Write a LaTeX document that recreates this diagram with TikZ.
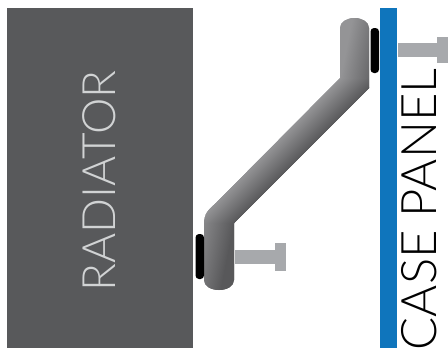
\documentclass[tikz,border=0pt]{standalone}
\usepackage{fontspec}
\setmainfont{Lato Light}
\usetikzlibrary{positioning,calc}
\tikzset{
    padbar/.style={fill=black, rounded corners=3.5pt},
    sidelabel/.style={rotate=90, inner sep=0pt, anchor=center}
}
\definecolor{radgray}{HTML}{58595B}
\definecolor{panelblue}{HTML}{0F75BC}
\definecolor{boltcol}{HTML}{A7A9AC}
\definecolor{labelcol}{HTML}{D1D3D4}
\definecolor{armlight}{HTML}{949496}
\definecolor{armdark}{HTML}{58585A}

\begin{document}
\begin{tikzpicture}[x=1pt,y=-1pt]
    \useasboundingbox (0,0) rectangle (448,349);

    % Radiator block
    \fill[radgray] (6.5,8) rectangle (193,347.5);
    \node[sidelabel, text=labelcol, font=\fontsize{46}{46}\selectfont] (radiator) at (99,181) {RADIATOR};

    % Case panel
    \fill[panelblue] (380,8) rectangle (396.5,348);
    \node[sidelabel, text=black, font=\fontsize{49}{49}\selectfont] (panel) at (419,209.5) {CASE PANEL};

    % Bracket, shaded row by row so the three parts join up
    \begin{scope}
        \clip (204,280) -- (204,224) .. controls (204,214) and (208,210) .. (216,203)
            -- (340,78) -- (340,28) .. controls (340,22) and (347,18) .. (354.5,18)
            .. controls (362,18) and (369,22) .. (369,28) -- (369,88) -- (234,223)
            -- (234,280) .. controls (234,286) and (227,290) .. (219,290)
            .. controls (211,290) and (204,286) .. (204,280) -- cycle;
        \foreach \y in {17,18,...,290} {
            \pgfmathsetmacro{\xstart}{\y<78 ? 340-0.2*(\y-78) : (\y<223 ? 418-\y : 195-0.2*(\y-223))}
            \fill[armlight] (\xstart-60,\y) rectangle (\xstart+1,\y+1.6);
            \fill[armdark] (\xstart+38,\y) rectangle (\xstart+100,\y+1.6);
            \shade[left color=armlight, right color=armdark] (\xstart,\y) rectangle (\xstart+39,\y+1.6);
        }
    \end{scope}

    % Rubber pads
    \fill[padbar] (195.5,234) rectangle (204,279);
    \fill[padbar] (370.5,28) rectangle (379,73);

    % Lower screw
    \fill[boltcol] (235,250) rectangle (275,264);
    \fill[boltcol] (275,243) rectangle (286,271);

    % Upper screw
    \fill[boltcol] (398,43) rectangle (437,57);
    \fill[boltcol] (437,37) rectangle (448,63);
\end{tikzpicture}
\end{document}
